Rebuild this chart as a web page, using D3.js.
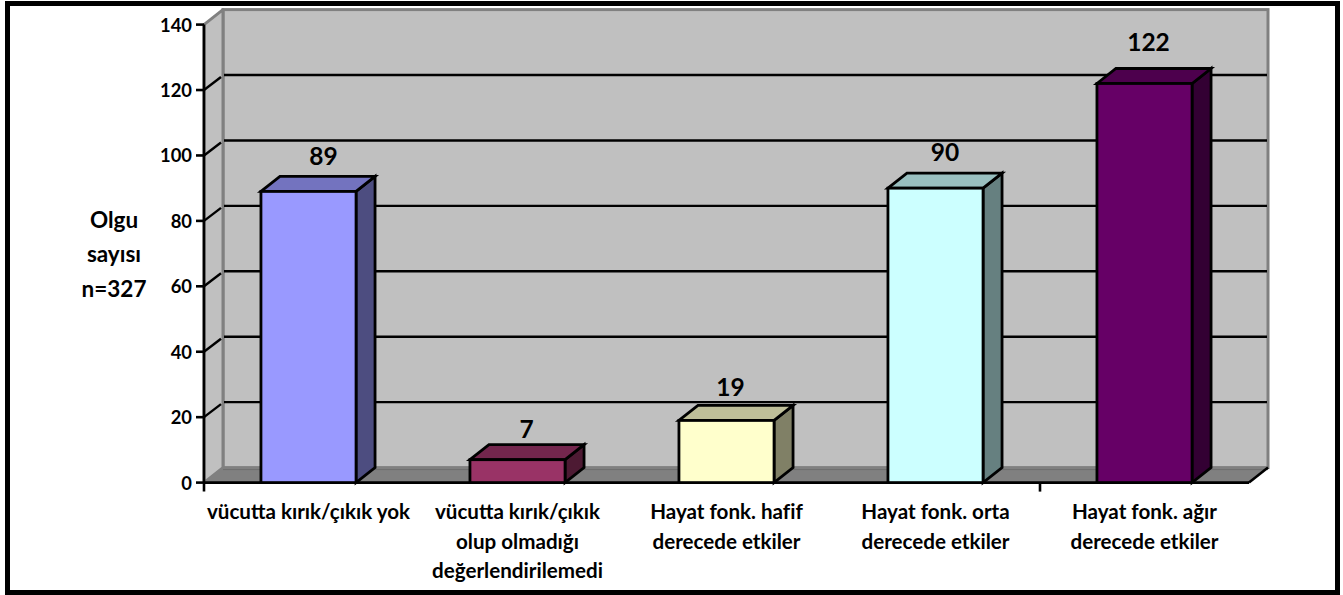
<!DOCTYPE html>
<html lang="tr">
<head>
<meta charset="utf-8">
<title>Olgu sayısı</title>
<script src="https://cdn.jsdelivr.net/npm/d3@7"></script>
<style>
  html, body { margin: 0; padding: 0; background: #fff; }
  svg { display: block; }
  text { font-family: Lato, "Open Sans", sans-serif; font-weight: 700; fill: #000; }
</style>
</head>
<body>
<svg id="chart" width="1343" height="595"></svg>
<script>
const categories = [
  ["vücutta kırık/çıkık yok"],
  ["vücutta kırık/çıkık", "olup olmadığı", "değerlendirilemedi"],
  ["Hayat fonk. hafif", "derecede etkiler"],
  ["Hayat fonk. orta", "derecede etkiler"],
  ["Hayat fonk. ağır", "derecede etkiler"]
];
const values = [89, 7, 19, 90, 122];
const frontColors = ["#9999ff", "#993366", "#ffffcc", "#ccffff", "#660066"];
const topColors = ["#7373bf", "#73264d", "#bfbf99", "#99bfbf", "#4d004d"];
const sideColors = ["#4d4d80", "#4d1a33", "#808066", "#668080", "#330033"];
const yTicks = [0, 20, 40, 60, 80, 100, 120, 140];
const axisTitle = ["Olgu", "sayısı", "n=327"];

// Hand-placed value labels: shift from the bar's centre and its top edge
const labelShiftX = [15, 9, 4, 9.5, 4];
const labelShiftY = [-26, -22, -24, -27, -32];

const depth = { x: 19, y: -15 };
const svg = d3.select("#chart");

// Outer frame of the chart area
svg.append("rect")
  .attr("x", 7.5).attr("y", 3.5).attr("width", 1330).attr("height", 589)
  .attr("fill", "#fff").attr("stroke", "#000").attr("stroke-width", 5);

const y = d3.scaleLinear().domain([0, 140]).range([482.6, 24.6]);
const x = d3.scaleBand().domain(d3.range(values.length)).range([204, 1249])
  .paddingInner(0.545).paddingOuter(0.2725);

const pts = a => a.map(p => p.join(",")).join(" ");
const [x0, x1] = x.range();
const [yBase, yTop] = y.range();

// Floor
svg.append("polygon")
  .attr("points", pts([[x0, yBase], [x1, yBase], [x1 + depth.x, yBase + depth.y], [x0 + depth.x, yBase + depth.y]]))
  .attr("fill", "#808080");

// Back wall
svg.append("rect")
  .attr("x", x0 + depth.x).attr("y", yTop + depth.y)
  .attr("width", x1 - x0).attr("height", yBase - yTop)
  .attr("fill", "#c0c0c0").attr("stroke", "#808080").attr("stroke-width", 3);

// Left side wall
svg.append("polygon")
  .attr("points", pts([[x0, yBase], [x0, yTop], [x0 + depth.x, yTop + depth.y], [x0 + depth.x, yBase + depth.y]]))
  .attr("fill", "#c0c0c0").attr("stroke", "#808080").attr("stroke-width", 3).attr("stroke-linejoin", "round");

// Darker seam where the floor meets the back wall
svg.append("line")
  .attr("x1", x0 + depth.x).attr("x2", x1 + depth.x)
  .attr("y1", yBase + depth.y + 2).attr("y2", yBase + depth.y + 2)
  .attr("stroke", "#6e6e6e").attr("stroke-width", 1);

// Gridlines on the back wall and across the side wall
const grid = svg.append("g").attr("stroke", "#000").attr("stroke-width", 2.4).attr("fill", "none");
yTicks.filter(t => t > 0 && t < 140).forEach(t => {
  grid.append("line")
    .attr("x1", x0 + depth.x + 1).attr("x2", x1 + depth.x - 1)
    .attr("y1", y(t) + depth.y).attr("y2", y(t) + depth.y);
  grid.append("line")
    .attr("x1", x0).attr("x2", x0 + depth.x - 2)
    .attr("y1", y(t)).attr("y2", y(t) + depth.y + 2);
});

// Axes lines, ticks and floor edges
const axes = svg.append("g").attr("stroke", "#000").attr("stroke-width", 2.6).attr("fill", "none");
axes.append("line").attr("x1", x0).attr("x2", x0).attr("y1", yTop).attr("y2", yBase + 9);
axes.append("line").attr("x1", x0 - 1).attr("x2", x1).attr("y1", yBase).attr("y2", yBase);
axes.append("line").attr("x1", x1).attr("x2", x1 + depth.x).attr("y1", yBase).attr("y2", yBase + depth.y);
axes.append("line").attr("x1", 1040).attr("x2", 1040).attr("y1", yBase).attr("y2", yBase + 9);
yTicks.forEach(t => {
  axes.append("line").attr("x1", x0 - 8).attr("x2", x0).attr("y1", y(t)).attr("y2", y(t));
});

// Tick labels
svg.append("g").selectAll("text").data(yTicks).join("text")
  .attr("x", x0 - 12).attr("y", d => y(d) + 0.5)
  .attr("dy", "0.35em").attr("text-anchor", "end").attr("font-size", 18.4)
  .text(d => d);

// Bars as extruded boxes
const bars = svg.append("g").selectAll("g").data(values).join("g")
  .attr("stroke", "#000").attr("stroke-width", 2.8).attr("stroke-linejoin", "miter");
bars.append("polygon").attr("fill", (d, i) => sideColors[i])
  .attr("points", (d, i) => {
    const r = x(i) + x.bandwidth();
    return pts([[r, y(d)], [r + depth.x, y(d) + depth.y], [r + depth.x, yBase + depth.y], [r, yBase]]);
  });
bars.append("polygon").attr("fill", (d, i) => topColors[i])
  .attr("points", (d, i) => {
    const l = x(i), r = l + x.bandwidth();
    return pts([[l, y(d)], [l + depth.x, y(d) + depth.y], [r + depth.x, y(d) + depth.y], [r, y(d)]]);
  });
bars.append("rect").attr("fill", (d, i) => frontColors[i])
  .attr("x", (d, i) => x(i)).attr("y", d => y(d))
  .attr("width", x.bandwidth()).attr("height", d => yBase - y(d));

// Value labels above each bar
svg.append("g").selectAll("text").data(values).join("text")
  .attr("x", (d, i) => x(i) + x.bandwidth() / 2 + labelShiftX[i])
  .attr("y", (d, i) => y(d) + labelShiftY[i])
  .attr("text-anchor", "middle").attr("font-size", 24.5)
  .text(d => d);

// Category labels
svg.append("g").selectAll("text").data(categories).join("text")
  .attr("text-anchor", "middle").attr("font-size", 20.6)
  .attr("transform", (d, i) => `translate(${x(i) + x.bandwidth() / 2},519)`)
  .selectAll("tspan").data(d => d).join("tspan")
  .attr("x", 0).attr("y", (d, i) => i * 29.5)
  .text(d => d);

// Axis title
svg.append("g").selectAll("text").data(axisTitle).join("text")
  .attr("x", 114).attr("y", (d, i) => 227.5 + i * 34.5)
  .attr("text-anchor", "middle").attr("font-size", 22.5)
  .text(d => d);
</script>
</body>
</html>
